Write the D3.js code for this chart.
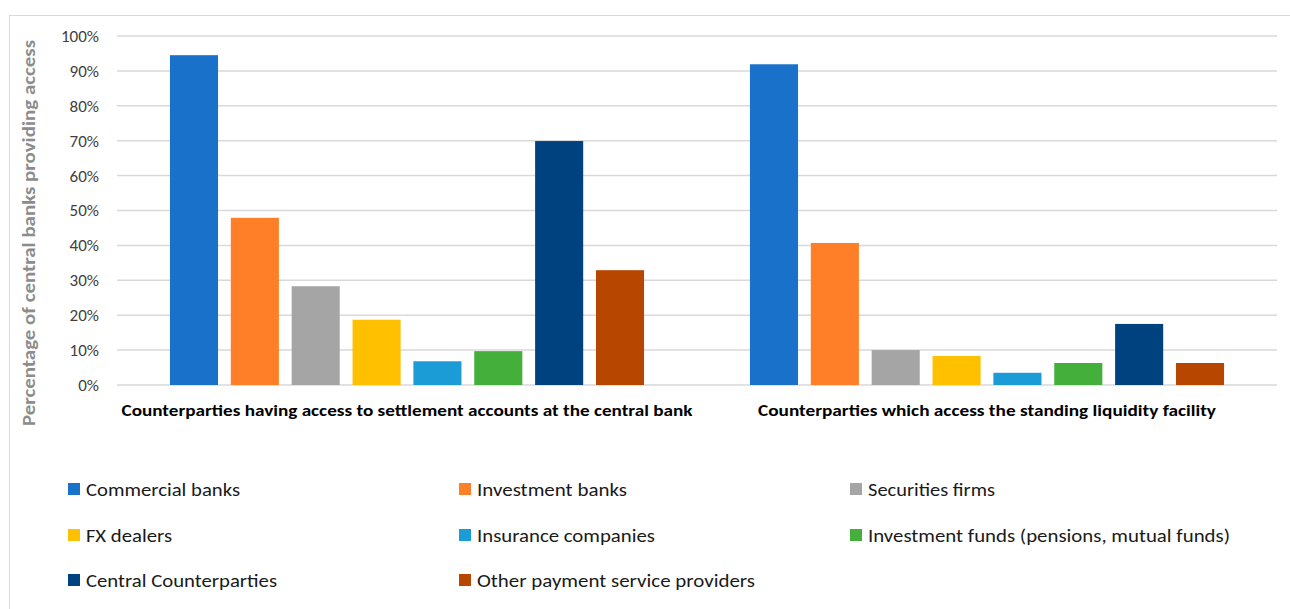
<!DOCTYPE html>
<html>
<head>
<meta charset="utf-8">
<script src="https://cdn.jsdelivr.net/npm/d3@7"></script>
<style>
  body { margin: 0; background: #fff; }
  text { font-family: Carlito, Calibri, "Open Sans", "Liberation Sans", sans-serif; }
</style>
</head>
<body>
<svg id="chart" width="1290" height="609"></svg>
<script>
var groups = [
    "Counterparties having access to settlement accounts at the central bank",
    "Counterparties which access the standing liquidity facility"
];
var series = [
    "Commercial banks", "Investment banks", "Securities firms",
    "FX dealers", "Insurance companies", "Investment funds (pensions, mutual funds)",
    "Central Counterparties", "Other payment service providers"
];
var settlementValues = [94.5, 47.9, 28.3, 18.7, 6.8, 9.7, 69.9, 32.9];
var liquidityValues = [91.9, 40.7, 10.0, 8.3, 3.5, 6.3, 17.5, 6.3];
var colors = ["#1a71c9", "#fe7f27", "#a5a5a5", "#ffc000", "#1c9cd6", "#44af3b", "#00427f", "#b74600"];
var yTicks = [0, 10, 20, 30, 40, 50, 60, 70, 80, 90, 100];

var svg = d3.select("#chart");

// outer frame of the chart
svg.append("rect")
    .attr("x", 9.5).attr("y", 15.5)
    .attr("width", 1290).attr("height", 620)
    .attr("fill", "none").attr("stroke", "#d9d9d9");

var x0 = d3.scaleBand().domain(groups).range([117, 1277]);
var x1 = d3.scaleBand().domain(series).range([0, x0.bandwidth()])
    .paddingInner(0.21).paddingOuter(0.87);
var y = d3.scaleLinear().domain([0, 100]).range([385, 36]);

// gridlines
svg.append("g").selectAll("line").data(yTicks).enter().append("line")
    .attr("x1", 117).attr("x2", 1277)
    .attr("y1", d => y(d)).attr("y2", d => y(d))
    .attr("stroke", "#d9d9d9").attr("stroke-width", 1.5);

// y axis labels
var yAxis = d3.axisLeft(y).tickValues(yTicks).tickFormat(d => d + "%").tickSize(0).tickPadding(0);
var gy = svg.append("g").attr("transform", "translate(99,0)").call(yAxis);
gy.select(".domain").remove();
gy.selectAll("text").attr("font-size", 17).attr("fill", "#404040")
    .style("font-family", "Carlito, Calibri, 'Open Sans', 'Liberation Sans', sans-serif");

// y axis title
svg.append("text")
    .attr("transform", "translate(35,233) rotate(-90)")
    .attr("text-anchor", "middle")
    .attr("font-size", 17).attr("font-weight", "bold").attr("fill", "#8c8c8c")
    .attr("textLength", 386).attr("lengthAdjust", "spacingAndGlyphs")
    .text("Percentage of central banks providing access");

// bars
var rows = groups.map((g, gi) => ({
    group: g,
    values: series.map((s, si) => ({ name: s, value: gi === 0 ? settlementValues[si] : liquidityValues[si], color: colors[si] }))
}));
var gGroups = svg.append("g").selectAll("g").data(rows).enter().append("g")
    .attr("transform", d => "translate(" + x0(d.group) + ",0)");
gGroups.selectAll("rect").data(d => d.values).enter().append("rect")
    .attr("x", d => x1(d.name))
    .attr("width", x1.bandwidth())
    .attr("y", d => y(d.value))
    .attr("height", d => y(0) - y(d.value))
    .attr("fill", d => d.color);

// category labels
var catLengths = [571, 458];
svg.append("g").selectAll("text").data(groups).enter().append("text")
    .attr("x", d => x0(d) + x0.bandwidth() / 2)
    .attr("y", 416)
    .attr("text-anchor", "middle")
    .attr("font-size", 16.5).attr("font-weight", "bold").attr("fill", "#000")
    .attr("textLength", (d, i) => catLengths[i]).attr("lengthAdjust", "spacingAndGlyphs")
    .text(d => d);

// legend
var legendCols = [68, 459, 850];
var legendRows = [489, 535, 580];
var legendLengths = [154, 150, 127, 86, 178, 362, 191, 278];
var lg = svg.append("g").selectAll("g").data(series).enter().append("g")
    .attr("transform", (d, i) => "translate(" + legendCols[i % 3] + "," + legendRows[Math.floor(i / 3)] + ")");
lg.append("rect").attr("x", 0).attr("y", -6).attr("width", 12).attr("height", 12)
    .attr("fill", (d, i) => colors[i]);
lg.append("text").attr("x", 18).attr("y", 6.5)
    .attr("font-size", 17.5).attr("fill", "#1a1a1a")
    .attr("textLength", (d, i) => legendLengths[i]).attr("lengthAdjust", "spacingAndGlyphs")
    .text(d => d);
</script>
</body>
</html>
